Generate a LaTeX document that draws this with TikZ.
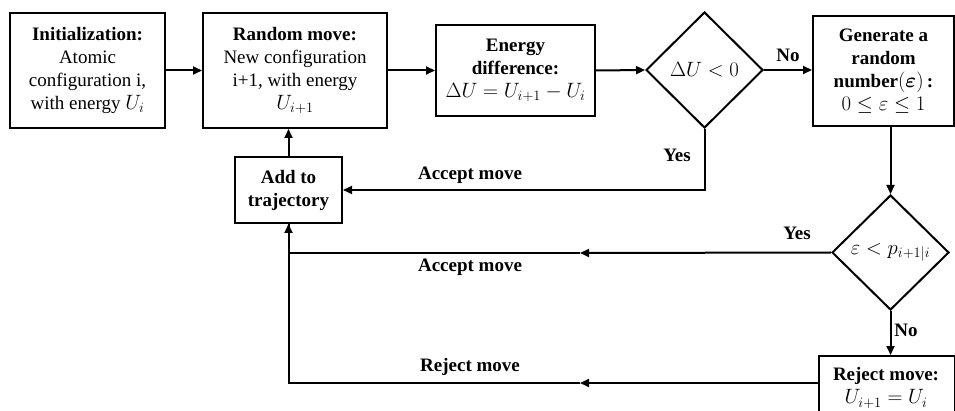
\documentclass[tikz,border=0pt]{standalone}
\usepackage{fontspec}
\usepackage{amsmath,bm}
\setmainfont{Liberation Serif}
\DeclareMathSizes{19}{21.5}{15}{11}
\usetikzlibrary{shapes.geometric,arrows.meta}
\begin{document}
\begin{tikzpicture}[x=1pt,y=-1pt,
  every node/.style={font=\fontsize{19}{23}\selectfont},
  box/.style={draw,line width=2pt,align=center,inner sep=0pt},
  dia/.style={draw,line width=2pt,diamond,inner sep=0pt,align=center},
  arr/.style={line width=2pt,-{Triangle[length=9pt,width=8pt]}},
  ln/.style={line width=2pt},
  lbl/.style={font=\fontsize{19}{23}\selectfont\bfseries}]
\useasboundingbox (0,0) rectangle (955,411);
\clip (0,0) rectangle (955,411);
\node[box,minimum width=155pt,minimum height=115pt] (init) at (87.5,70.5)
  {\textbf{Initialization:}\\Atomic\\configuration i,\\with energy $U_i$};
\node[box,minimum width=184pt,minimum height=115pt] (rand) at (295,70.5)
  {\textbf{Random move:}\\New configuration\\i+1, with energy\\$U_{i+1}$};
\node[box,minimum width=159pt,minimum height=91pt] (ediff) at (515.5,70.5)
  {\textbf{Energy}\\\textbf{difference:}\\$\Delta U = U_{i+1} - U_i$};
\node[dia,minimum width=117pt,minimum height=116pt] (d1) at (704.5,70)
  {$\Delta U < 0$};
\node[box,minimum width=141pt,minimum height=110pt] (gen) at (883.5,71)
  {\textbf{Generate a}\\\textbf{random}\\\textbf{number}$(\bm{\varepsilon})$\,\textbf{:}\\$0 \le \varepsilon \le 1$};
\node[dia,minimum width=117pt,minimum height=115pt] (d2) at (890.5,252.5)
  {$\varepsilon < p_{i+1|i}$};
\node[box,minimum width=136pt,minimum height=76pt,anchor=north west] (rej) at (818,355)
  {};
\node[align=center] (rejt) at (886,388)
  {\textbf{Reject move:}\\$U_{i+1} = U_i$};
\node[box,minimum width=107pt,minimum height=66pt] (add) at (288.5,190)
  {\textbf{Add to}\\\textbf{trajectory}};
\coordinate (m1) at (580,253);
\coordinate (m2) at (580,383);
\draw[arr] (init.east) -- (init.east -| rand.west);
\draw[arr] (rand.east) -- (rand.east -| ediff.west);
\draw[arr] (ediff.east) -- (d1.west);
\draw[arr] (d1.east) -- (d1.east -| gen.west);
\draw[arr] (gen.south -| d2.north) -- (d2.north);
\draw[arr] (d2.south) -- (d2.south |- rej.north);
\draw[arr] (d1.south) |- (add.east);
\draw[arr] (add.north) -- (add.north |- rand.south);
\draw[arr] (d2.west) -- (m1);
\draw[arr] (m1) -| (add.south);
\draw[arr] (rej.west |- m2) -- (m2);
\draw[ln] (m2) -| (add.south);
\node[lbl] (no1) at (788,55) {No};
\node[lbl] (yes1) at (677,155) {Yes};
\node[lbl] (acc1) at (470,175) {Accept move};
\node[lbl] (acc2) at (470,267) {Accept move};
\node[lbl] (rej2) at (470,367) {Reject move};
\node[lbl] (yes2) at (797,233) {Yes};
\node[lbl] (no2) at (906,330) {No};
\end{tikzpicture}
\end{document}
